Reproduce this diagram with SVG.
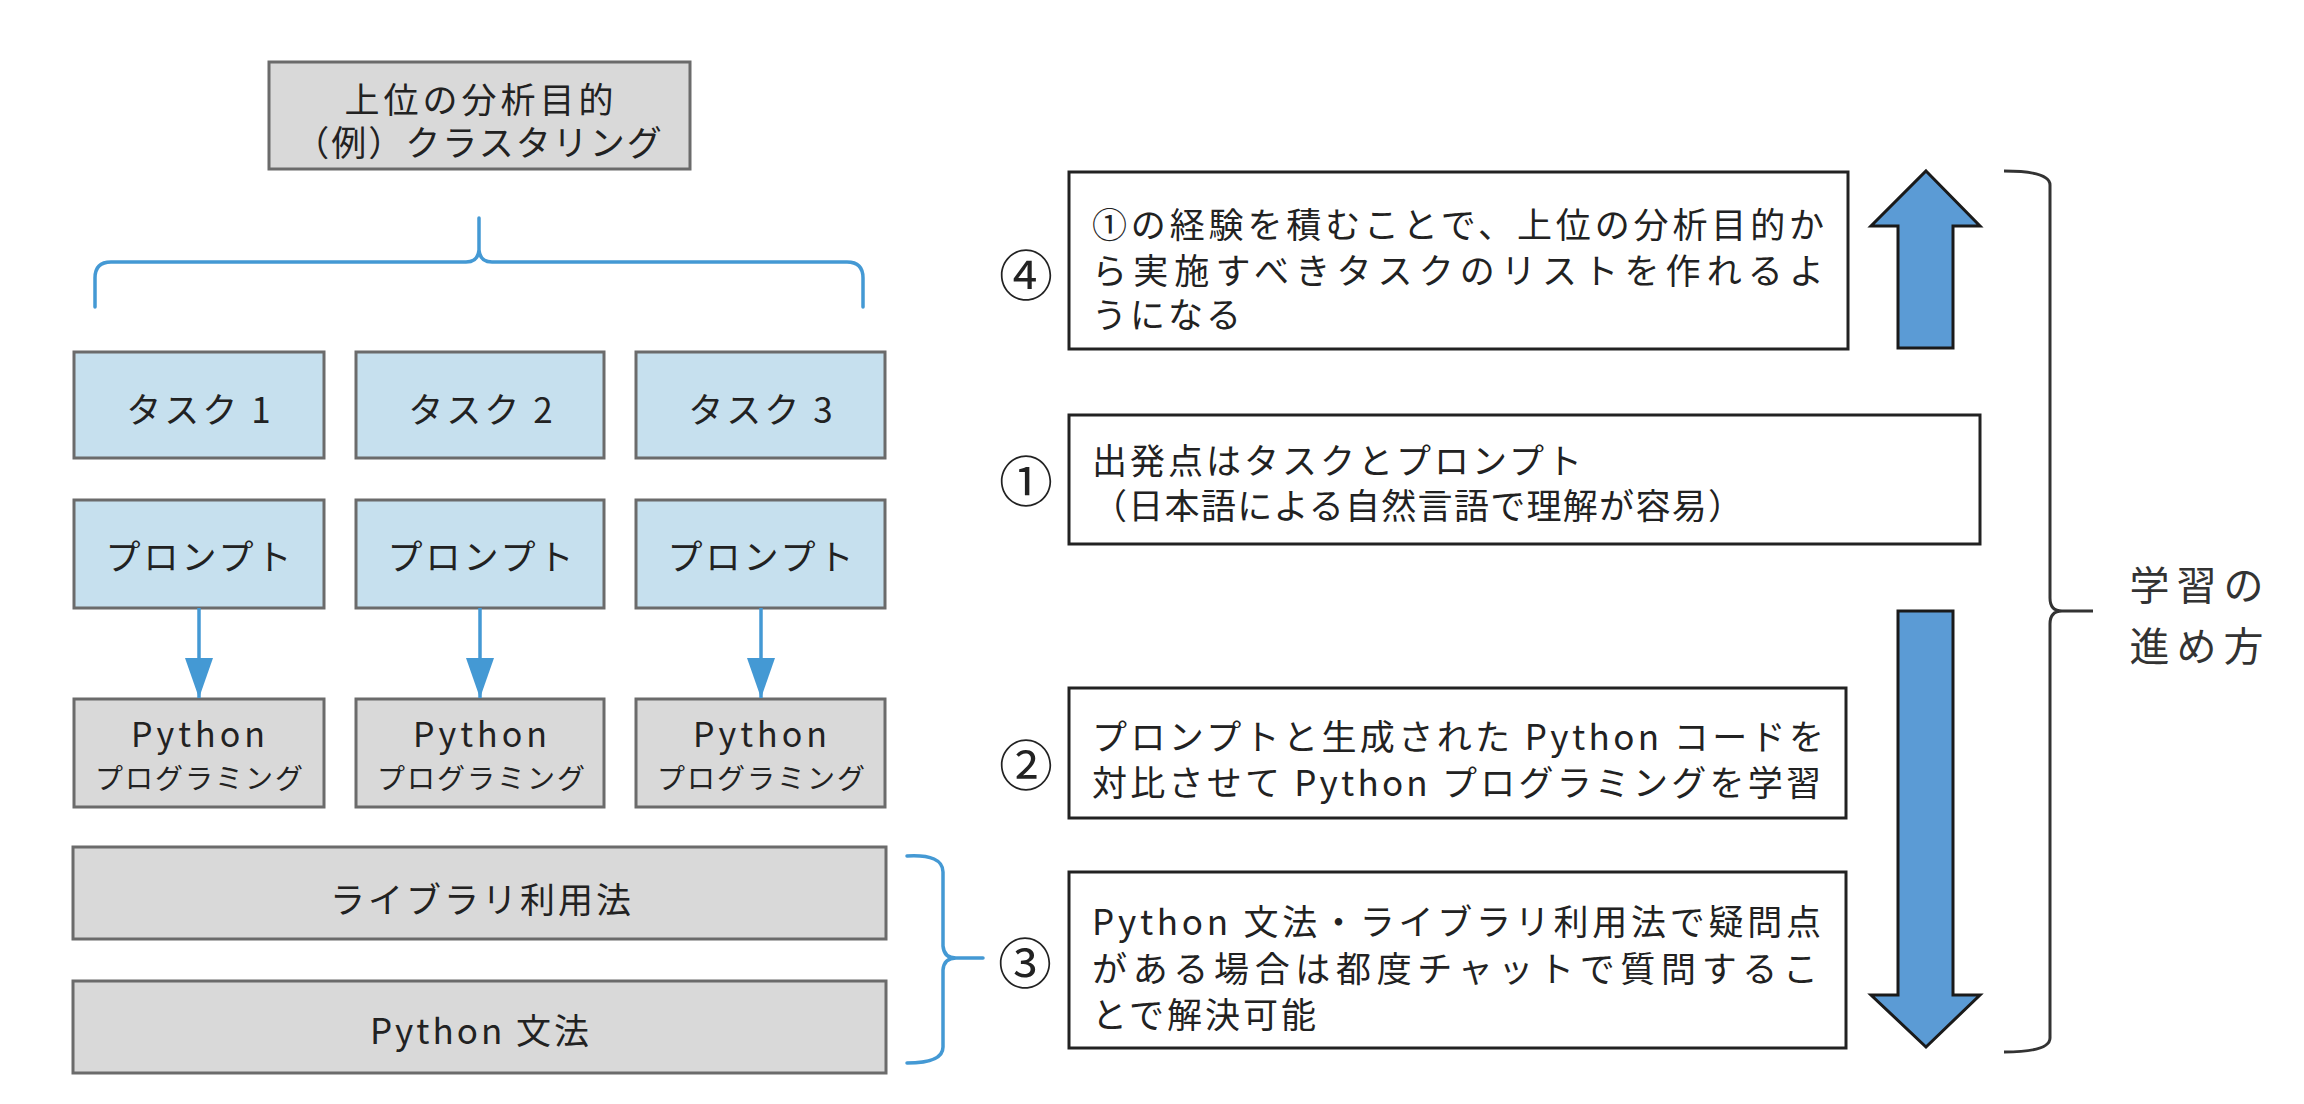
<svg xmlns="http://www.w3.org/2000/svg" width="2304" height="1104" viewBox="0 0 2304 1104">
<defs>
<style>
text{font-family:"Noto Sans CJK JP","Noto Sans",sans-serif;fill:#222;}
.gbox{fill:#d9d9d9;stroke:#6b6b6b;stroke-width:3;}
.bbox{fill:#c6e0ee;stroke:#6b6b6b;stroke-width:3;}
.wbox{fill:#fff;stroke:#222;stroke-width:3;}
.t{font-size:35px;letter-spacing:3px;text-anchor:middle;dominant-baseline:central;}
.tl{font-size:35px;letter-spacing:3px;dominant-baseline:central;}
.py{font-size:34px;letter-spacing:4px;text-anchor:middle;dominant-baseline:central;}
.pg{font-size:28px;letter-spacing:2px;}
.num{font-size:54px;text-anchor:middle;dominant-baseline:central;}
.big{font-size:40px;letter-spacing:7px;text-anchor:middle;dominant-baseline:central;fill:#333;}
.bluebrace{fill:none;stroke:#4499d4;stroke-width:3.5;stroke-linecap:round;}
.blackbrace{fill:none;stroke:#333;stroke-width:3;}
.conn{stroke:#4499d4;stroke-width:3.5;fill:none;marker-end:url(#ah);}
.fat{fill:#5b9bd5;stroke:#1a1a1a;stroke-width:3;stroke-linejoin:miter;}
</style>
<marker id="ah" viewBox="0 0 40 28" refX="40" refY="14" markerWidth="40" markerHeight="28" markerUnits="userSpaceOnUse" orient="auto">
<path d="M0,0 L40,14 L0,28 Z" fill="#4499d4"/>
</marker>
</defs>
<rect width="2304" height="1104" fill="#fff"/>

<g id="goal">
<rect class="gbox" x="269" y="62" width="421" height="107"/>
<text class="t"><tspan x="481" y="97" style="letter-spacing:4px">上位の分析目的</tspan><tspan x="479" y="140" style="letter-spacing:2px">（例）クラスタリング</tspan></text>
</g>

<g id="task1"><rect class="bbox" x="74" y="352" width="250" height="106"/><text class="t" x="200" y="407">タスク 1</text></g>
<g id="task2"><rect class="bbox" x="356" y="352" width="248" height="106"/><text class="t" x="482" y="407">タスク 2</text></g>
<g id="task3"><rect class="bbox" x="636" y="352" width="249" height="106"/><text class="t" x="762" y="407">タスク 3</text></g>

<g id="prompt1"><rect class="bbox" x="74" y="500" width="250" height="108"/><text class="t" x="200" y="554">プロンプト</text></g>
<g id="prompt2"><rect class="bbox" x="356" y="500" width="248" height="108"/><text class="t" x="482" y="554">プロンプト</text></g>
<g id="prompt3"><rect class="bbox" x="636" y="500" width="249" height="108"/><text class="t" x="762" y="554">プロンプト</text></g>

<g id="python1"><rect class="gbox" x="74" y="699" width="250" height="108"/><text class="py"><tspan x="200" y="732">Python</tspan><tspan class="pg" x="200" y="777">プログラミング</tspan></text></g>
<g id="python2"><rect class="gbox" x="356" y="699" width="248" height="108"/><text class="py"><tspan x="482" y="732">Python</tspan><tspan class="pg" x="482" y="777">プログラミング</tspan></text></g>
<g id="python3"><rect class="gbox" x="636" y="699" width="249" height="108"/><text class="py"><tspan x="762" y="732">Python</tspan><tspan class="pg" x="762" y="777">プログラミング</tspan></text></g>

<g id="library"><rect class="gbox" x="73" y="847" width="813" height="92"/><text class="t" x="482" y="897">ライブラリ利用法</text></g>
<g id="grammar"><rect class="gbox" x="73" y="981" width="813" height="92"/><text class="t" x="481" y="1028">Python 文法</text></g>

<g id="connectors">
<line class="conn" x1="199" y1="608" x2="199" y2="698"/>
<line class="conn" x1="480" y1="608" x2="480" y2="698"/>
<line class="conn" x1="761" y1="608" x2="761" y2="698"/>
<path class="bluebrace" d="M95,307 L95,278 Q95,262 111,262 L466,262 Q478,262 479,250 L479,218 M479,250 Q480,262 492,262 L847,262 Q863,262 863,278 L863,307"/>
<path class="bluebrace" d="M907,856 Q943,854 943,872 L943,946 Q944,958 956,958 L983,958 M956,958 Q944,958 943,970 L943,1047 Q943,1063 907,1063"/>
<path class="blackbrace" d="M2004,171 Q2050,171 2050,185 L2050,598 Q2050,611 2062,611 L2093,611 M2062,611 Q2050,611 2050,624 L2050,1038 Q2050,1052 2004,1052"/>
</g>

<g id="step4">
<text class="num" x="1026" y="272">④</text>
<rect class="wbox" x="1069" y="172" width="779" height="177"/>
<text class="tl"><tspan x="1092" y="222" textLength="735" lengthAdjust="spacing">①の経験を積むことで、上位の分析目的か</tspan><tspan x="1092" y="268" textLength="735" lengthAdjust="spacing">ら実施すべきタスクのリストを作れるよ</tspan><tspan x="1092" y="312">うになる</tspan></text>
</g>

<g id="step1">
<text class="num" x="1026" y="478">①</text>
<rect class="wbox" x="1069" y="415" width="911" height="129"/>
<text class="tl"><tspan x="1092" y="458">出発点はタスクとプロンプト</tspan><tspan x="1092" y="503" textLength="654" lengthAdjust="spacing">（日本語による自然言語で理解が容易）</tspan></text>
</g>

<g id="step2">
<text class="num" x="1026" y="762">②</text>
<rect class="wbox" x="1069" y="688" width="777" height="130"/>
<text class="tl"><tspan x="1092" y="734" textLength="735" lengthAdjust="spacing">プロンプトと生成された Python コードを</tspan><tspan x="1092" y="780" textLength="732" lengthAdjust="spacing">対比させて Python プログラミングを学習</tspan></text>
</g>

<g id="step3">
<text class="num" x="1025" y="960">③</text>
<rect class="wbox" x="1069" y="872" width="777" height="176"/>
<text class="tl"><tspan x="1092" y="919" textLength="732" lengthAdjust="spacing">Python 文法・ライブラリ利用法で疑問点</tspan><tspan x="1092" y="966" textLength="729" lengthAdjust="spacing">がある場合は都度チャットで質問するこ</tspan><tspan x="1092" y="1012">とで解決可能</tspan></text>
</g>

<g id="up-arrow"><path class="fat" d="M1926,171 L1980,226 L1953,226 L1953,348 L1898,348 L1898,226 L1871,226 Z"/></g>
<g id="down-arrow"><path class="fat" d="M1898,611 L1953,611 L1953,995 L1980,995 L1926,1047 L1871,995 L1898,995 Z"/></g>

<g id="label">
<text class="big"><tspan x="2200" y="583">学習の</tspan><tspan x="2200" y="644">進め方</tspan></text>
</g>
</svg>
